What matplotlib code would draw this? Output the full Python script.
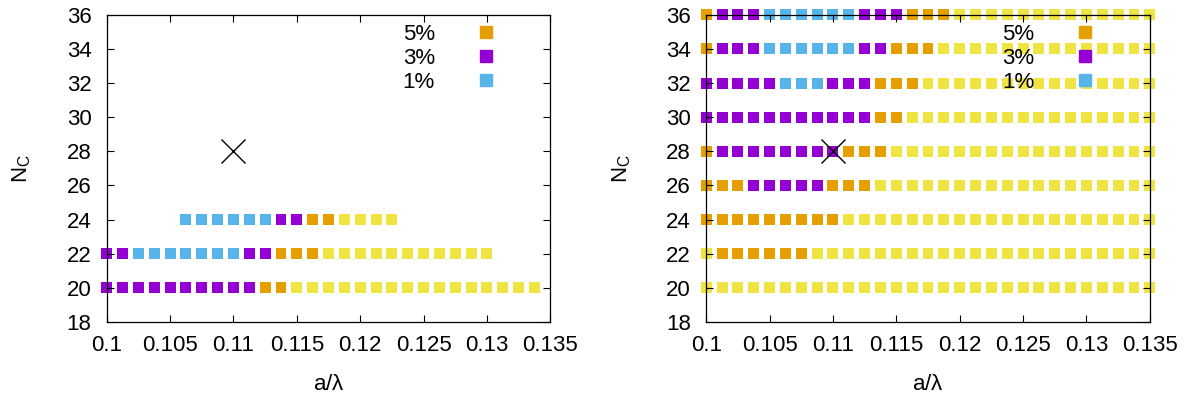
import numpy as np
import matplotlib
matplotlib.use("Agg")
import matplotlib.pyplot as plt
from matplotlib.ticker import FuncFormatter
from matplotlib.lines import Line2D

plt.rcParams['font.family'] = ['Liberation Sans', 'DejaVu Sans']

# a/lambda grid (29 values)
A_VALUES = [0.1, 0.10125, 0.1025, 0.10375, 0.105, 0.10625, 0.1075, 0.10875,
            0.11, 0.11125, 0.1125, 0.11375, 0.115, 0.11625, 0.1175, 0.11875,
            0.12, 0.12125, 0.1225, 0.12375, 0.125, 0.12625, 0.1275, 0.12875,
            0.13, 0.13125, 0.1325, 0.13375, 0.135]

# level per grid point: 1 = 1%, 3 = 3%, 5 = 5%, 9 = above, '-' = nothing
LEFT_ROWS = [20, 22, 24]
LEFT_LEVELS = [
    "3333333333559999999999999999",
    "3311111113355599999999999",
    "-----11111133559999",
]

RIGHT_ROWS = [36, 34, 32, 30, 28, 26, 24, 22, 20]
RIGHT_LEVELS = [
    "53331111113335559999999999999",
    "53331111113355599999999999999",
    "33333111333555999999999999999",
    "33333333333559999999999999999",
    "53333333355599999999999999999",
    "55533333555999999999999999999",
    "55555555599999999999999999999",
    "95555559999999999999999999999",
    "99999999999999999999999999999",
]

MARK_A = 0.11
MARK_N = 28

COLORS = {'1': '#56b4e9', '3': '#9400d3', '5': '#e69f00', '9': '#f0e442'}
LEGEND = [('5%', '5'), ('3%', '3'), ('1%', '1')]


def draw_panel(ax, rows, levels):
    for n, lev in zip(rows, levels):
        for code in '9531':
            xs = [A_VALUES[i] for i, c in enumerate(lev) if c == code]
            if xs:
                ax.scatter(xs, [n] * len(xs), marker='s', s=62, c=COLORS[code],
                           edgecolors='none', clip_on=False, zorder=1)
    ax.plot([MARK_A], [MARK_N], marker='x', color='black', markersize=17,
            markeredgewidth=1.0, linestyle='none', zorder=3)

    ax.set_xlim(0.1, 0.135)
    ax.set_ylim(18, 36)
    ax.set_xticks(np.arange(0.1, 0.1351, 0.005))
    ax.set_yticks(range(18, 37, 2))
    ax.xaxis.set_major_formatter(FuncFormatter(lambda v, p: '%g' % round(v, 4)))
    ax.tick_params(direction='in', top=True, right=True, length=5, width=0.8,
                   labelsize=16)
    ax.tick_params(axis='x', pad=9)
    ax.tick_params(axis='y', pad=11)
    for sp in ax.spines.values():
        sp.set_linewidth(0.9)
    ax.set_xlabel(r'a/$\mathregular{\lambda}$', fontsize=16, labelpad=13)
    ax.set_ylabel(r'N$_\mathregular{C}$', fontsize=16, labelpad=24)

    handles = [Line2D([], [], marker='s', color=COLORS[c], markersize=8,
                      linestyle='none') for _, c in LEGEND]
    ax.legend(handles, [t for t, _ in LEGEND], loc='upper right',
              bbox_to_anchor=(0.925, 1.0), frameon=False, markerfirst=False,
              fontsize=16, handletextpad=1.3, labelspacing=0.14,
              borderaxespad=0.0)


fig = plt.figure(figsize=(11.99, 4.01), dpi=100)
ax1 = fig.add_axes([0.089, 0.197, 0.370, 0.766])
ax2 = fig.add_axes([0.589, 0.197, 0.370, 0.766])
draw_panel(ax1, LEFT_ROWS, LEFT_LEVELS)
draw_panel(ax2, RIGHT_ROWS, RIGHT_LEVELS)

fig.savefig('out.png', dpi=100)
